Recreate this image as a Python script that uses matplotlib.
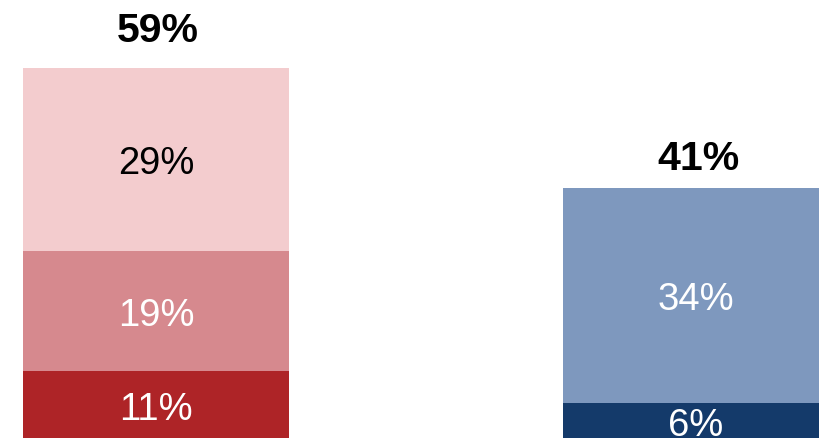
import matplotlib
matplotlib.use("Agg")
import matplotlib.pyplot as plt

plt.rcParams['font.family'] = ['Liberation Sans', 'DejaVu Sans']

# Data
groups = ["Left", "Right"]
left_values = [11, 19, 29]
right_values = [6, 34]
totals = [59, 41]

left_colors = ["#AE2427", "#D6898E", "#F3CCCE"]
right_colors = ["#143A6A", "#7E98BE"]
left_text_colors = ["white", "white", "black"]
right_text_colors = ["white", "white"]

fig = plt.figure(figsize=(8.2, 4.39), dpi=100)
below = 2.6
ax = fig.add_axes([0, -below / 439, 1, 1 + below / 439])

width = 266 / 540
positions = [0, 1]

def draw_stack(x, values, colors, tcolors):
    bottom = 0
    for v, c, tc in zip(values, colors, tcolors):
        ax.bar(x, v, width=width, bottom=bottom, color=c, linewidth=0)
        ax.annotate(f"{v}%", xy=(x, bottom + v / 2), xytext=(0, -2.5),
                    textcoords="offset points", ha="center", va="center",
                    fontsize=27.5, color=tc)
        bottom += v
    return bottom

top_left = draw_stack(positions[0], left_values, left_colors, left_text_colors)
top_right = draw_stack(positions[1], right_values, right_colors, right_text_colors)

offsets_px = [27, 19]
for x, top, tot, off in zip(positions, [top_left, top_right], totals, offsets_px):
    ax.annotate(f"{tot}%", xy=(x, top), xytext=(1.5, off * 72 / 100),
                textcoords="offset points", ha="center", va="baseline",
                fontsize=29.5, fontweight="bold", color="black")

ax.set_xlim(-156 / 540, (820 - 156) / 540)
ax.set_ylim(0, (439 + below) / 6.316)
ax.axis("off")

fig.savefig("out.png", dpi=100)
